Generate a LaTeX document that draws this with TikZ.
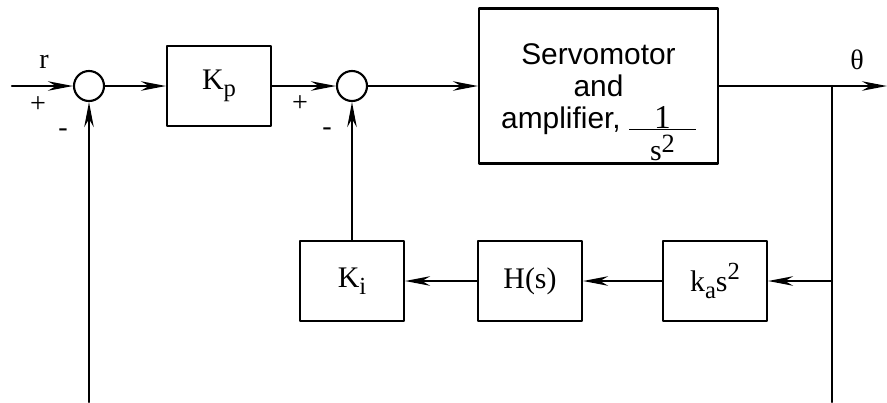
\documentclass[tikz,border=0pt]{standalone}
\usepackage{amsmath}
\usepackage{fontspec}
\setmainfont{Liberation Serif}
\setsansfont{Liberation Sans}
\usetikzlibrary{positioning,calc,arrows.meta}
\tikzset{>={Stealth[length=5mm,width=1.9mm,inset=1.6mm]}}
\newcommand{\sbs}[1]{\raisebox{-0.55ex}{\fontsize{14}{16}\selectfont #1}}
\newcommand{\sps}[1]{\raisebox{0.85ex}{\fontsize{14}{16}\selectfont #1}}
\newcommand{\servofrac}{{\rmfamily\fontsize{17}{17}\selectfont
  \setlength{\tabcolsep}{0pt}\setlength{\arrayrulewidth}{0.8pt}%
  \begin{tabular}[t]{c}\makebox[38pt]{\fontsize{19}{19}\selectfont 1}\\[-5pt]\hline
  \rule{0pt}{17pt}s\raisebox{0.55ex}{\fontsize{15}{16}\selectfont 2}\end{tabular}}}

\begin{document}
\begin{tikzpicture}[line width=1.2pt, line cap=round, line join=round,
  block/.style={draw, minimum width=2.08cm, minimum height=1.6cm, font=\fontsize{17}{20}\selectfont},
  sumpt/.style={draw, circle, minimum size=0.6cm, inner sep=0pt},
  lbl/.style={font=\fontsize{16}{18}\selectfont}]
  \useasboundingbox (0,0) rectangle (17.74,-8.04);

  % forward path
  \coordinate (in) at (0.24,-1.72);
  \node[sumpt] (sum1) at (1.78,-1.72) {};
  \node[block] (kp) at (4.38,-1.72) {K\sbs{p}};
  \node[sumpt] (sum2) at (7.04,-1.72) {};
  \node[draw, minimum width=4.78cm, minimum height=3.1cm] (servo) at (11.97,-1.72) {};
  \node[anchor=north, inner sep=0pt, align=center,
        font=\sffamily\fontsize{17}{18.2}\selectfont] (servotext) at (11.97,-0.86)
        {Servomotor\\and\\amplifier,\;\servofrac};
  \coordinate (branch) at (16.64,-1.72);
  \coordinate (out) at (17.74,-1.72);

  % inner feedback
  \node[block] (ki) at (7.04,-5.62) {K\sbs{i}};
  \node[block] (hs) at (10.6,-5.62) {H(s)};
  \node[block] (kas) at (14.3,-5.62) {k\sbs{a}s\sps{2}};
  \coordinate (tap) at (16.64,-5.62);

  % outer loop ends
  \coordinate (bot1) at (1.78,-8.04);
  \coordinate (bot2) at (16.64,-8.04);

  \draw[->] (in) -- (sum1);
  \draw[->] (sum1) -- (kp);
  \draw[->] (kp) -- (sum2);
  \draw[->] (sum2) -- (servo);
  \draw[->] (servo.east |- branch) -- (out);
  \draw (branch) -- (bot2);
  \draw[->] (tap) -- (kas);
  \draw[->] (kas) -- (hs);
  \draw[->] (hs) -- (ki);
  \draw[->] (ki) -- (sum2);
  \draw[->] (bot1) -- (sum1);

  % signs and labels
  \node[lbl] (r) at (0.88,-1.24) {r};
  \node[lbl] (p1) at (0.76,-2.1) {+};
  \node[lbl] (m1) at (1.26,-2.66) {-};
  \node[lbl] (p2) at (6.0,-2.08) {+};
  \node[lbl] (m2) at (6.54,-2.64) {-};
  \node[lbl] (theta) at (17.14,-1.2) {θ};
\end{tikzpicture}
\end{document}
